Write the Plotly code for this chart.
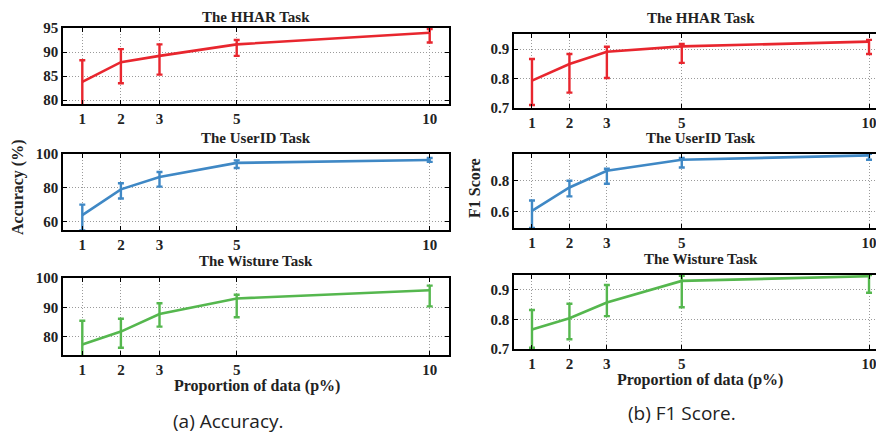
import plotly.graph_objects as go

# ---------------- data ----------------
proportions = [1, 2, 3, 5, 10]

acc_hhar = [83.8, 87.9, 89.2, 91.6, 94.0]
acc_hhar_plus = [4.5, 2.7, 2.4, 0.9, 0.8]
acc_hhar_minus = [5.0, 4.4, 3.9, 2.4, 2.0]

acc_userid = [63.6, 79.0, 86.3, 94.7, 96.4]
acc_userid_plus = [6.3, 3.6, 3.0, 1.5, 1.2]
acc_userid_minus = [9.0, 5.5, 5.7, 3.0, 1.1]

acc_wisture = [77.3, 81.7, 87.7, 93.0, 95.8]
acc_wisture_plus = [8.1, 4.4, 3.7, 1.3, 1.6]
acc_wisture_minus = [4.0, 5.5, 4.3, 6.4, 5.5]

f1_hhar = [0.793, 0.849, 0.891, 0.909, 0.925]
f1_hhar_plus = [0.073, 0.034, 0.017, 0.008, 0.006]
f1_hhar_minus = [0.083, 0.097, 0.089, 0.056, 0.042]

f1_userid = [0.606, 0.755, 0.862, 0.932, 0.960]
f1_userid_plus = [0.066, 0.043, 0.013, 0.011, 0.010]
f1_userid_minus = [0.11, 0.057, 0.083, 0.049, 0.028]

f1_wisture = [0.766, 0.804, 0.857, 0.930, 0.946]
f1_wisture_plus = [0.066, 0.049, 0.059, 0.017, 0.004]
f1_wisture_minus = [0.062, 0.071, 0.046, 0.089, 0.056]

task_titles = ["The HHAR Task", "The UserID Task", "The Wisture Task"]
x_ticks = [1, 2, 3, 5, 10]
acc_yticks = [[80, 85, 90, 95], [60, 80, 100], [80, 90, 100]]
f1_yticks = [[0.7, 0.8, 0.9], [0.6, 0.8], [0.7, 0.8, 0.9]]
acc_yranges = [[79.2, 95], [54.8, 100], [73.7, 100]]
f1_yranges = [[0.7, 0.951], [0.496, 0.969], [0.7, 0.95]]

colors = ["#e8262e", "#3f88c5", "#55b74e"]

# page has an 8px body margin: work in reference pixels, shift by OFF
OFF = 8
W, H = 884 - OFF, 436 - OFF
FONT = "Liberation Serif"


def px(xp):
    return (xp - OFF) / W


def py(yp):
    return 1 - (yp - OFF) / H


panels = [
    (acc_hhar, acc_hhar_plus, acc_hhar_minus, 0, 0, 0),
    (acc_userid, acc_userid_plus, acc_userid_minus, 1, 0, 1),
    (acc_wisture, acc_wisture_plus, acc_wisture_minus, 2, 0, 2),
    (f1_hhar, f1_hhar_plus, f1_hhar_minus, 0, 1, 0),
    (f1_userid, f1_userid_plus, f1_userid_minus, 1, 1, 1),
    (f1_wisture, f1_wisture_plus, f1_wisture_minus, 2, 1, 2),
]

# pixel boxes in reference coords (left, right, top, bottom)
boxes = {
    (0, 0): (63, 449, 28, 104),
    (0, 1): (63, 449, 154, 230),
    (0, 2): (63, 449, 278, 355),
    (1, 0): (514, 884, 34, 108),
    (1, 1): (514, 884, 154, 228),
    (1, 2): (514, 884, 275, 349),
}
x_ranges = {0: [0.5, 10.5], 1: [0.52, 10.4]}
title_y = {(0, 0): 17, (0, 1): 138, (0, 2): 261, (1, 0): 18, (1, 1): 138, (1, 2): 259}

fig = go.Figure()
layout = dict(
    width=W, height=H, margin=dict(l=0, r=0, t=0, b=0, autoexpand=False),
    paper_bgcolor="white", plot_bgcolor="white", showlegend=False,
)
annotations = []

for i, (vals, plus, minus, ci, col, row) in enumerate(panels):
    n = i + 1
    xa = "x" if n == 1 else f"x{n}"
    ya = "y" if n == 1 else f"y{n}"
    fig.add_trace(go.Scatter(
        x=proportions, y=vals, mode="lines",
        line=dict(color=colors[ci], width=2.6),
        error_y=dict(type="data", symmetric=False, array=plus, arrayminus=minus,
                     color=colors[ci], thickness=2.4, width=3),
        xaxis=xa, yaxis=ya,
    ))
    l, r, t, b = boxes[(col, row)]
    yticks = acc_yticks[row] if col == 0 else f1_yticks[row]
    yrange = acc_yranges[row] if col == 0 else f1_yranges[row]
    common = dict(
        showline=True, linecolor="black", linewidth=1.5, mirror="ticks",
        ticks="inside", ticklen=4, tickwidth=1, tickcolor="black",
        showgrid=True, gridcolor="#9a9a9a", griddash="1px,2px", gridwidth=1,
        zeroline=False, automargin=False,
        tickfont=dict(family=FONT, size=15, color="#222", weight="bold"),
    )
    layout["xaxis" if n == 1 else f"xaxis{n}"] = dict(
        common, domain=[px(l), min(px(r), 1.0)], range=x_ranges[col],
        tickvals=x_ticks, ticktext=[str(v) for v in x_ticks],
        anchor=ya,
    )
    layout["yaxis" if n == 1 else f"yaxis{n}"] = dict(
        common, domain=[py(b), py(t)], range=yrange,
        tickvals=yticks, ticktext=[f"{v:g}" for v in yticks],
        anchor=xa,
    )
    annotations.append(dict(
        text=task_titles[row], x=px((l + (r if col == 0 else 888)) / 2),
        y=py(title_y[(col, row)]), xref="paper", yref="paper",
        showarrow=False, xanchor="center", yanchor="middle",
        font=dict(family=FONT, size=15, color="#222", weight="bold"),
    ))

# axis titles
annotations += [
    dict(text="Accuracy (%)", x=px(18), y=py(187), textangle=-90),
    dict(text="F1 Score", x=px(475), y=py(188), textangle=-90),
    dict(text="Proportion of data (p%)", x=px(257), y=py(386)),
    dict(text="Proportion of data (p%)", x=px(700), y=py(380)),
]
for a in annotations[-4:]:
    a.update(xref="paper", yref="paper", showarrow=False, xanchor="center", yanchor="middle",
             font=dict(family=FONT, size=16, color="#222", weight="bold"))

# captions
for text, cx, cy in [("(a) Accuracy.", 228, 421), ("(b) F1 Score.", 682, 413)]:
    annotations.append(dict(
        text=text, x=px(cx), y=py(cy), xref="paper", yref="paper", showarrow=False,
        xanchor="center", yanchor="middle",
        font=dict(family="Open Sans", size=19, color="#222"),
    ))

layout["annotations"] = annotations
fig.update_layout(**layout)
fig.write_html("out.html")
